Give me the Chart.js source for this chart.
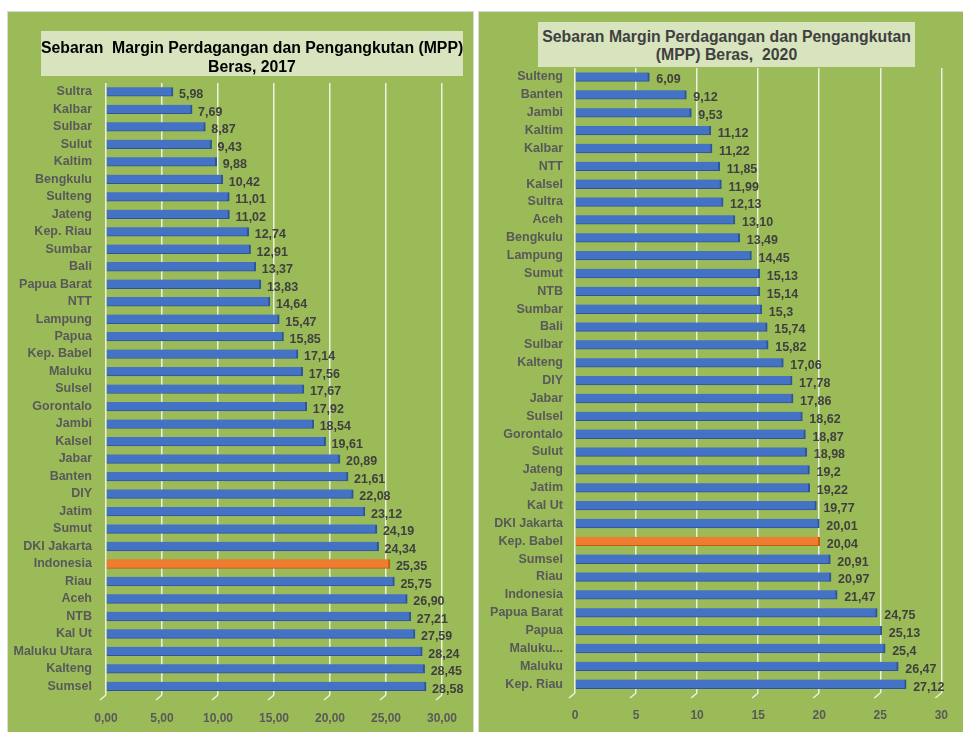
<!DOCTYPE html>
<html>
<head>
<meta charset="utf-8">
<script src="https://cdn.jsdelivr.net/npm/chart.js@4.4.1/dist/chart.umd.min.js"></script>
<style>
  html, body { margin: 0; padding: 0; background: #ffffff; width: 963px; height: 732px; overflow: hidden; }
  .panel { position: absolute; background: #9BBB59; border: 1px solid #D9D9D9; box-sizing: border-box; }
  .title { position: absolute; background: #D7E4BD; font-family: "Liberation Sans", Arial, sans-serif; font-weight: bold; font-size: 15.8px; line-height: 18.5px; text-align: center; box-sizing: border-box; white-space: nowrap; }
  canvas { position: absolute; }
</style>
</head>
<body>
<div class="panel" style="left:7px; top:11px; width:467px; height:730px;"></div>
<div class="panel" style="left:478px; top:11px; width:490px; height:730px;"></div>
<canvas id="c1" width="466" height="721" style="left:7px; top:11px;"></canvas>
<canvas id="c2" width="484" height="721" style="left:479px; top:11px;"></canvas>
<div class="title" style="left:41px; top:31px; width:422px; height:45px; padding-top:8px; color:#000000;">Sebaran&nbsp; Margin Perdagangan dan Pengangkutan (MPP)<br>Beras, 2017</div>
<div class="title" style="left:538px; top:22px; width:377px; height:45px; padding-top:5.5px; color:#404040;">Sebaran Margin Perdagangan dan Pengangkutan<br>(MPP) Beras,&nbsp; 2020</div>
<script>
// ---- Data 2017 ----
const categories2017 = ["Sultra","Kalbar","Sulbar","Sulut","Kaltim","Bengkulu","Sulteng","Jateng","Kep. Riau","Sumbar","Bali","Papua Barat","NTT","Lampung","Papua","Kep. Babel","Maluku","Sulsel","Gorontalo","Jambi","Kalsel","Jabar","Banten","DIY","Jatim","Sumut","DKI Jakarta","Indonesia","Riau","Aceh","NTB","Kal Ut","Maluku Utara","Kalteng","Sumsel"];
const values2017 = [5.98,7.69,8.87,9.43,9.88,10.42,11.01,11.02,12.74,12.91,13.37,13.83,14.64,15.47,15.85,17.14,17.56,17.67,17.92,18.54,19.61,20.89,21.61,22.08,23.12,24.19,24.34,25.35,25.75,26.90,27.21,27.59,28.24,28.45,28.58];
const highlight2017 = "Indonesia";
const ticks2017 = ["0,00","5,00","10,00","15,00","20,00","25,00","30,00"];

// ---- Data 2020 ----
const categories2020 = ["Sulteng","Banten","Jambi","Kaltim","Kalbar","NTT","Kalsel","Sultra","Aceh","Bengkulu","Lampung","Sumut","NTB","Sumbar","Bali","Sulbar","Kalteng","DIY","Jabar","Sulsel","Gorontalo","Sulut","Jateng","Jatim","Kal Ut","DKI Jakarta","Kep. Babel","Sumsel","Riau","Indonesia","Papua Barat","Papua","Maluku...","Maluku","Kep. Riau"];
const values2020 = [6.09,9.12,9.53,11.12,11.22,11.85,11.99,12.13,13.10,13.49,14.45,15.13,15.14,15.3,15.74,15.82,17.06,17.78,17.86,18.62,18.87,18.98,19.2,19.22,19.77,20.01,20.04,20.91,20.97,21.47,24.75,25.13,25.4,26.47,27.12];
const valueLabels2020 = ["6,09","9,12","9,53","11,12","11,22","11,85","11,99","12,13","13,10","13,49","14,45","15,13","15,14","15,3","15,74","15,82","17,06","17,78","17,86","18,62","18,87","18,98","19,2","19,22","19,77","20,01","20,04","20,91","20,97","21,47","24,75","25,13","25,4","26,47","27,12"];
const highlight2020 = "Kep. Babel";
const ticks2020 = ["0","5","10","15","20","25","30"];

const FONT = '"Liberation Sans", Arial, sans-serif';
const BLUE = '#4472C4', BLUE_EDGE = '#2F5597', ORANGE = '#ED7D31', ORANGE_EDGE = '#C55A11';

const valueLabelPlugin = {
  id: 'valueLabels',
  afterDatasetsDraw(chart, args, opts) {
    const ctx = chart.ctx;
    const meta = chart.getDatasetMeta(0);
    ctx.save();
    ctx.font = 'bold 12.5px ' + FONT;
    ctx.fillStyle = '#404040';
    ctx.textAlign = 'left';
    ctx.textBaseline = 'middle';
    meta.data.forEach((bar, i) => {
      ctx.fillText(opts.labels[i], bar.x + opts.offset, bar.y + 3);
    });
    ctx.restore();
  }
};

const gridSlantPlugin = {
  id: 'gridSlant',
  beforeDatasetsDraw(chart) {
    const ctx = chart.ctx, xs = chart.scales.x, area = chart.chartArea;
    ctx.save();
    ctx.strokeStyle = 'rgba(255,255,255,0.8)';
    ctx.lineWidth = 1.5;
    xs.ticks.forEach(t => {
      const x = xs.getPixelForValue(t.value);
      ctx.beginPath();
      ctx.moveTo(x, area.bottom);
      ctx.lineTo(x - 6, area.bottom + 5);
      ctx.stroke();
    });
    ctx.restore();
  }
};

function makeChart(id, cats, vals, highlight, tickLabels, labels, lay) {
  const colors = cats.map(c => c === highlight ? ORANGE : BLUE);
  const edges = cats.map(c => c === highlight ? ORANGE_EDGE : BLUE_EDGE);
  return new Chart(document.getElementById(id), {
    type: 'bar',
    data: {
      labels: cats,
      datasets: [{
        data: vals,
        backgroundColor: colors,
        borderColor: edges,
        borderWidth: { top: 0, left: 0, right: 2, bottom: 1 },
        borderSkipped: false,
        barThickness: 9
      }]
    },
    plugins: [valueLabelPlugin, gridSlantPlugin],
    options: {
      indexAxis: 'y',
      responsive: false,
      animation: false,
      devicePixelRatio: 1,
      layout: { padding: { left: 0, right: lay.right, top: lay.top, bottom: 0 } },
      plugins: {
        legend: { display: false },
        tooltip: { enabled: false },
        valueLabels: { labels: labels, offset: lay.labelOffset }
      },
      scales: {
        x: {
          min: 0, max: 30,
          ticks: {
            stepSize: 5,
            padding: lay.xPad,
            color: '#595959',
            font: { family: FONT, size: 12, weight: 'bold' },
            callback: (v, i) => tickLabels[i]
          },
          grid: { color: 'rgba(255,255,255,0.8)', lineWidth: 1.5, drawTicks: false },
          border: { display: false },
          afterFit: s => { s.height = lay.xHeight; }
        },
        y: {
          ticks: {
            padding: lay.yPad,
            color: '#595959',
            font: { family: FONT, size: 12.5, weight: 'bold' },
            autoSkip: false
          },
          grid: { display: false, drawTicks: false },
          border: { display: false },
          afterFit: s => { s.width = lay.yWidth; }
        }
      }
    }
  });
}

makeChart('c1', categories2017, values2017, highlight2017, ticks2017,
  values2017.map(v => v.toFixed(2).replace('.', ',')),
  { right: 29, top: 72, xHeight: 37, yWidth: 99, xPad: 16, yPad: 14, labelOffset: 6 });

makeChart('c2', categories2020, values2020, highlight2020, ticks2020,
  valueLabels2020,
  { right: 16, top: 57, xHeight: 39, yWidth: 96, xPad: 15, yPad: 12, labelOffset: 7 });
</script>
</body>
</html>
